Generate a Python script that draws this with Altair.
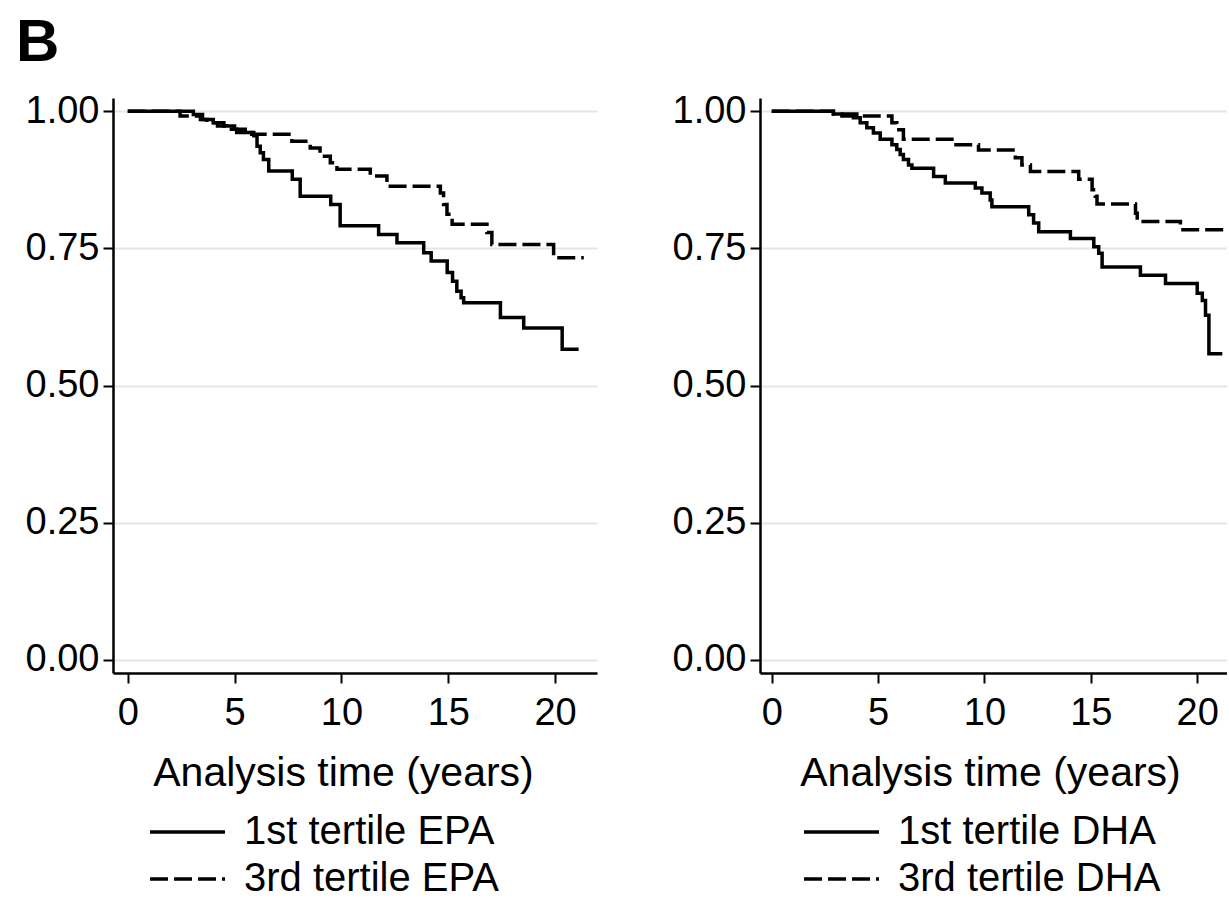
import altair as alt
import pandas as pd

# ---- data (Kaplan-Meier steps) ----
epa_t1_time = [0, 3.07, 3.5, 4.0, 4.5, 5.0, 5.5, 5.9, 6.05, 6.2, 6.35, 6.6, 7.7, 8.07, 9.5, 9.94,
               11.74, 12.6, 13.85, 14.2, 14.95, 15.2, 15.4, 15.6, 15.72, 17.44, 18.53, 20.33, 21.1]
epa_t1_surv = [1.0, 0.994, 0.985, 0.979, 0.973, 0.967, 0.961, 0.955, 0.936, 0.924, 0.912, 0.891,
               0.876, 0.845, 0.830, 0.791, 0.775, 0.760, 0.742, 0.727, 0.706, 0.690, 0.672, 0.660,
               0.651, 0.624, 0.605, 0.566, 0.566]

epa_t3_time = [0, 2.45, 3.4, 3.7, 4.2, 4.6, 5.1, 5.8, 7.68, 8.54, 9.0, 9.48, 9.79, 11.35, 12.13,
               14.63, 14.78, 14.94, 15.18, 16.81, 17.04, 19.93, 21.34]
epa_t3_surv = [1.0, 0.991, 0.985, 0.979, 0.973, 0.967, 0.961, 0.958, 0.945, 0.933, 0.918, 0.906,
               0.894, 0.882, 0.863, 0.851, 0.830, 0.812, 0.794, 0.779, 0.757, 0.733, 0.733]

dha_t1_time = [0, 2.9, 3.3, 3.84, 4.16, 4.47, 4.78, 5.10, 5.65, 5.88, 6.04, 6.19, 6.43, 6.59, 7.61,
               8.16, 9.57, 9.88, 10.27, 10.35, 12.08, 12.31, 12.55, 14.04, 15.14, 15.37, 15.53,
               17.33, 18.51, 20.0, 20.24, 20.39, 20.55, 21.18]
dha_t1_surv = [1.0, 0.995, 0.991, 0.988, 0.979, 0.970, 0.960, 0.949, 0.939, 0.930, 0.921, 0.912,
               0.902, 0.896, 0.881, 0.869, 0.860, 0.851, 0.838, 0.826, 0.811, 0.796, 0.780, 0.768,
               0.753, 0.741, 0.716, 0.701, 0.686, 0.668, 0.655, 0.628, 0.558, 0.558]

dha_t3_time = [0, 2.9, 4.0, 5.65, 5.88, 6.19, 8.47, 9.72, 11.45, 11.76, 12.16, 14.43, 15.06, 15.21,
               15.29, 17.1, 17.18, 19.21, 21.41]
dha_t3_surv = [1.0, 0.995, 0.991, 0.979, 0.966, 0.949, 0.939, 0.929, 0.915, 0.902, 0.890, 0.876,
               0.857, 0.845, 0.831, 0.814, 0.799, 0.784, 0.784]

epa_labels = ["1st tertile EPA", "3rd tertile EPA"]
dha_labels = ["1st tertile DHA", "3rd tertile DHA"]
x_ticks = [0, 5, 10, 15, 20]
y_ticks = [0, 0.25, 0.5, 0.75, 1.0]

FONT = "Liberation Sans"


def make_df(t1, s1, t3, s3, labels):
    a = pd.DataFrame({"time": t1, "surv": s1, "group": labels[0]})
    b = pd.DataFrame({"time": t3, "surv": s3, "group": labels[1]})
    return pd.concat([a, b], ignore_index=True)


def panel(df, labels, xdom, width, legend_x):
    return alt.Chart(df).mark_line(
        interpolate="step-after", strokeWidth=3.5, color="black", clip=True
    ).encode(
        x=alt.X("time:Q",
                scale=alt.Scale(domain=xdom, nice=False, zero=False),
                axis=alt.Axis(values=x_ticks, title="Analysis time (years)", grid=False,
                              labelPadding=11, titleX=230, titleY=112,
                              titleBaseline="alphabetic", titleAlign="center",
                              titleFontSize=41, titleFont=FONT, titleFontWeight="normal",
                              titleColor="black")),
        y=alt.Y("surv:Q",
                scale=alt.Scale(domain=[-0.024, 1.024], nice=False, zero=False),
                axis=alt.Axis(values=y_ticks, format=".2f", title=None, grid=True,
                              labelPadding=4)),
        strokeDash=alt.StrokeDash(
            "group:N",
            scale=alt.Scale(domain=labels, range=[[1, 0], [18, 6]]),
            legend=alt.Legend(title=None, orient="none", legendX=legend_x, legendY=714,
                              symbolType="stroke", symbolSize=5625, symbolStrokeWidth=3.5,
                              symbolStrokeColor="black", clipHeight=40,
                              labelFont=FONT, labelFontSize=40, labelColor="black",
                              labelOffset=17, labelBaseline="middle",
                              labelLimit=400, rowPadding=7, padding=0, direction="vertical")),
    ).properties(width=width, height=575)


left = panel(make_df(epa_t1_time, epa_t1_surv, epa_t3_time, epa_t3_surv, epa_labels),
             epa_labels, [-0.69, 21.96], 484, 35)
right = panel(make_df(dha_t1_time, dha_t1_surv, dha_t3_time, dha_t3_surv, dha_labels),
              dha_labels, [-0.55, 21.4], 467, 42)

chart = alt.hconcat(left, right, spacing=75).resolve_scale(
    strokeDash="independent", x="independent", y="independent"
).resolve_legend(strokeDash="independent").properties(
    title=alt.TitleParams("B", anchor="start", fontSize=60, fontWeight="bold", font=FONT,
                          color="black", dx=-9, offset=-29, baseline="alphabetic"),
    padding={"left": 16, "top": 13, "right": 0, "bottom": 0},
    background="white",
).configure_view(stroke=None).configure_axis(
    domainColor="black", domainWidth=2.5, tickColor="black", tickWidth=2, tickSize=10,
    labelFont=FONT, labelFontSize=38, labelColor="black",
    gridColor="#e6e6e6", gridWidth=2,
)

chart.save("out.html", embed_options={"renderer": "svg", "actions": False})
